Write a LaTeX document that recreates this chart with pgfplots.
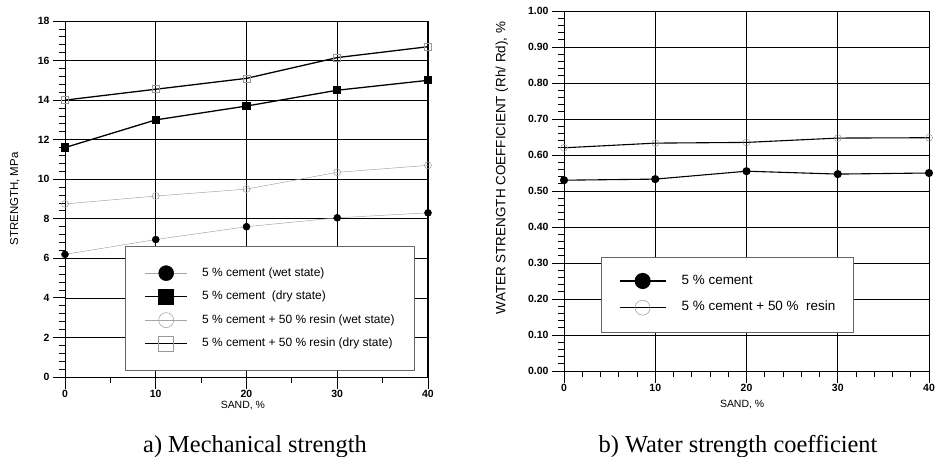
\documentclass[border=0pt]{standalone}
\usepackage{pgfplots}
\pgfplotsset{compat=1.18}
\usepackage{fontspec}
\setmainfont{Liberation Sans}
\newfontfamily\capfont{Liberation Serif}

\begin{document}
\begin{tikzpicture}
\path[use as bounding box] (0bp,0bp) rectangle (943bp,-457bp);
\pgfplotsset{
  common/.style={
    scale only axis,
    grid=major,
    major grid style={black, line width=0.7bp},
    axis line style={black, line width=1bp},
    tick style={black, line width=0.8bp},
    tick align=outside,
    tick pos=left,
    major tick length=12bp,
    minor tick length=6bp,
    xmin=0, xmax=40,
    xtick={0,10,20,30,40},
    tick label style={font=\bfseries\fontsize{10.5}{12}\selectfont},
    xticklabel style={yshift=2bp},
    /pgf/number format/assume math mode=true,
    xlabel={SAND, \%},
    legend cell align=left,
  }
}
% ---------------- Left panel
\begin{axis}[common,
  at={(65bp,-377bp)}, anchor=south west,
  width=363bp, height=356bp,
  ymin=0, ymax=18, ytick={0,2,...,18},
  minor x tick num=1, minor y tick num=4,
  ylabel={STRENGTH, MPa},
  ylabel style={at={(axis description cs:-0.138,0.5)}, anchor=center, rotate=0, font=\fontsize{11.5}{13}\selectfont},
  xlabel style={at={(axis description cs:0.49,-0.079)}, anchor=center, font=\fontsize{10.5}{12}\selectfont},
  legend style={at={(0.165,0.017)}, anchor=south west, draw=black!60, line width=0.6bp,
    inner xsep=20bp, inner ysep=21bp, row sep=11.5bp, column sep=15bp,
    nodes={inner sep=0pt, text height=9bp, text depth=3bp},
    font=\fontsize{12}{14}\selectfont},
  legend image code/.code={%
    \pgfinterruptboundingbox
    \draw[mark repeat=2,mark phase=2,#1,mark size=7.5bp] plot coordinates {(0bp,0bp) (21bp,0bp) (42bp,0bp)};
    \endpgfinterruptboundingbox
    \pgfpathrectangle{\pgfpoint{0bp}{-3bp}}{\pgfpoint{42bp}{6bp}}\pgfusepath{use as bounding box}},
]
\addplot[gray!70, line width=0.5bp, mark=*, mark size=3.5bp, mark options={black, fill=black}]
  coordinates {(0,6.2) (10,6.95) (20,7.6) (30,8.05) (40,8.3)};
\addlegendentry{5 \% cement (wet state)}
\addplot[black, line width=1.3bp, mark=square*, mark size=3.5bp, mark options={black, fill=black}]
  coordinates {(0,11.6) (10,13.0) (20,13.7) (30,14.5) (40,15.0)};
\addlegendentry{5 \% cement\ \ (dry state)}
\addplot[gray!70, line width=0.5bp, mark=o, mark size=3.5bp, mark options={gray!80, line width=0.5bp}]
  coordinates {(0,8.75) (10,9.15) (20,9.5) (30,10.35) (40,10.7)};
\addlegendentry{5 \% cement + 50 \% resin (wet state)}
\addplot[black, line width=1.3bp, mark=square, mark size=3.5bp, mark options={gray!80, line width=0.5bp}]
  coordinates {(0,14.0) (10,14.55) (20,15.1) (30,16.15) (40,16.7)};
\addlegendentry{5 \% cement + 50 \% resin (dry state)}
\end{axis}
% ---------------- Right panel
\begin{axis}[common,
  at={(564bp,-371bp)}, anchor=south west,
  width=365bp, height=360bp,
  ymin=0, ymax=1, ytick={0,0.1,...,1.0},
  yticklabel style={/pgf/number format/.cd, fixed, fixed zerofill, precision=2},
  minor x tick num=4, minor y tick num=4,
  ylabel={WATER STRENGTH COEFFICIENT (Rh/ Rd), \%},
  ylabel style={at={(axis description cs:-0.170,0.564)}, anchor=center, rotate=0, font=\fontsize{13.5}{15}\selectfont},
  xlabel style={at={(axis description cs:0.488,-0.094)}, anchor=center, font=\fontsize{10.5}{12}\selectfont},
  legend style={at={(0.101,0.108)}, anchor=south west, draw=black!60, line width=0.6bp,
    inner xsep=18.5bp, inner ysep=17.4bp, row sep=13.2bp, column sep=16bp,
    nodes={inner sep=0pt, text height=10bp, text depth=3.5bp},
    font=\fontsize{13.5}{15}\selectfont},
  legend image code/.code={%
    \pgfinterruptboundingbox
    \draw[mark repeat=2,mark phase=2,#1,mark size=7.5bp] plot coordinates {(0bp,0bp) (23bp,0bp) (46bp,0bp)};
    \endpgfinterruptboundingbox
    \pgfpathrectangle{\pgfpoint{0bp}{-3bp}}{\pgfpoint{46bp}{6bp}}\pgfusepath{use as bounding box}},
]
\addplot[black, line width=1.1bp, mark=*, mark size=3.5bp, mark options={black, fill=black}]
  coordinates {(0,0.530) (10,0.533) (20,0.555) (30,0.547) (40,0.550)};
\addlegendentry{5 \% cement}
\addplot[black, line width=1.1bp, mark=o, mark size=3.5bp, mark options={gray!80, line width=0.5bp}]
  coordinates {(0,0.620) (10,0.633) (20,0.635) (30,0.647) (40,0.648)};
\addlegendentry{5 \% cement + 50 \%\ \ resin}
\end{axis}
\node[font=\capfont\fontsize{24.5}{26}\selectfont, anchor=base] at (255bp,-452bp) {a) Mechanical strength};
\node[font=\capfont\fontsize{24.5}{26}\selectfont, anchor=base] at (738bp,-452bp) {b) Water strength coefficient};
\end{tikzpicture}
\end{document}
